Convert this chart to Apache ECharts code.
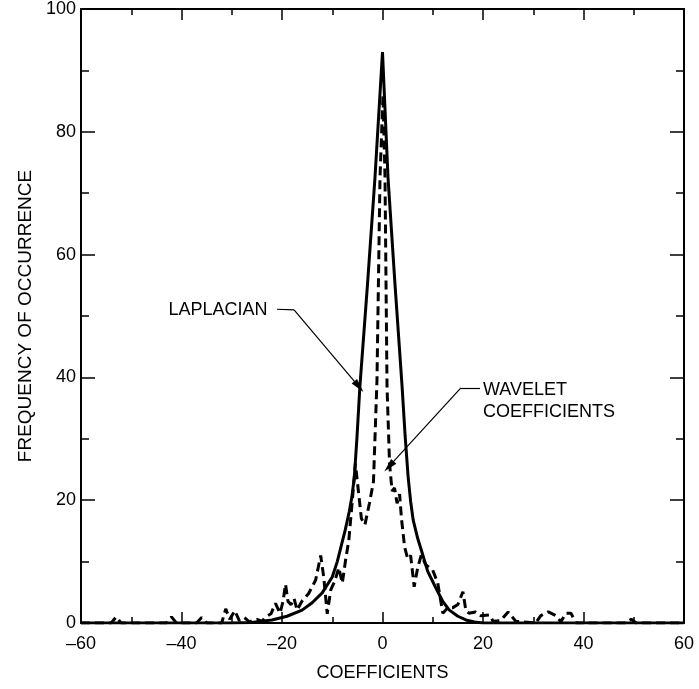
<!DOCTYPE html>
<html>
<head>
<meta charset="utf-8">
<script src="https://cdn.jsdelivr.net/npm/echarts@6/dist/echarts.min.js"></script>
<style>
  html, body { margin: 0; padding: 0; background: #fff; }
  #chart { width: 699px; height: 689px; }
</style>
</head>
<body>
<div id="chart"></div>
<script>
// laplacian curve
var lapX = [-60, -30, -26, -22, -19, -16, -14, -12, -10, -9, -8.2, -7.4, -6.6, -6.1, -5.6, -5.1, -4.5, -3, -1.5, 0, 1.1, 2.5, 3.9, 4.5, 5.1, 5.6, 6.1, 7, 7.9, 9, 10.5, 12, 13.3, 15, 16.6, 18.3, 20, 60];
var lapY = [0, 0, 0.1, 0.5, 1.1, 2.1, 3.3, 4.9, 7.5, 10, 12.6, 15.2, 18.2, 20.5, 23.8, 30, 38.5, 55, 72.5, 93, 72.5, 55, 38.5, 30.5, 23.8, 19.8, 16.8, 13.8, 11.4, 8.4, 5.9, 3.5, 2.1, 1.1, 0.5, 0.15, 0, 0];

// wavelet coefficient histogram (dashed)
var wavX = [-60, -54, -53, -52, -43, -42, -41, -37, -36, -35, -32, -31.2, -30.4, -29.4, -28.5, -27.5, -26.5, -25, -24, -23.2, -22.2, -21.3, -20.4, -19.8, -19.3, -18.8, -18.2, -17.6, -17, -16, -14.7, -13.3, -12.3, -11.7, -11, -10.3, -9.5, -8.7, -8, -7.3, -6.7, -6, -5.4, -4.8, -4.2, -3.5, -2.6, -1.8, -1.1, -0.5, 0.1, 0.5, 0.9, 1.4, 1.9, 2.4, 2.9, 3.4, 3.8, 4.4, 5, 5.6, 6.3, 7, 7.7, 8.6, 10, 11, 12, 13, 14, 15, 16, 16.6, 17.2, 18.5, 19.5, 21.3, 22, 23.5, 25, 26.5, 30.5, 31.5, 33, 34.5, 35.5, 36.5, 37.5, 38.5, 48.5, 49.5, 50.5, 60];
var wavY = [0, 0, 1, 0, 0, 1, 0, 0, 0.9, 0, 0, 2.3, 0.6, 2, 0.4, 0.9, 0.2, 0.6, 0.3, 1, 1.5, 3.2, 1.6, 3.5, 6.3, 3.5, 3, 4, 2.1, 3.6, 4.8, 7, 11, 7.5, 1.5, 5.4, 6.8, 9, 6.5, 10.5, 13.5, 20, 26, 21.5, 17, 16, 19.5, 23, 39.5, 72.5, 86, 72.5, 38.5, 26, 21.5, 22, 19.5, 21, 16.8, 12.4, 10.5, 11, 5.9, 9, 11, 9.5, 8.6, 6.5, 1.6, 2.5, 2.5, 3, 5.1, 2, 1.6, 1.8, 1.2, 1.3, 0.3, 0.4, 1.8, 0.3, 0, 1.2, 1.8, 1.2, 0.2, 1.6, 1.6, 0, 0, 0.6, 0, 0];

var xTicks = [-60, 60, 20];   // min, max, interval
var yTicks = [0, 100, 20];

function pairs(xs, ys) {
  var out = [];
  for (var i = 0; i < xs.length; i++) out.push([xs[i], ys[i]]);
  return out;
}

var font = '"Liberation Sans", Arial, sans-serif';

function xAx(pos, show) {
  return {
    type: 'value', position: pos,
    min: xTicks[0], max: xTicks[1], interval: xTicks[2],
    axisLine: { onZero: false, lineStyle: { color: '#000', width: 2 } },
    axisTick: { inside: true, length: 11, lineStyle: { color: '#000', width: 1.5 } },
    minorTick: { show: true, splitNumber: 2, length: 6, lineStyle: { color: '#000', width: 1.5 } },
    splitLine: { show: false },
    axisLabel: {
      show: show, margin: 12, color: '#000', fontSize: 18, fontFamily: font,
      formatter: function (v) { return v < 0 ? '\u2013' + (-v) : '' + v; }
    },
    name: show ? 'COEFFICIENTS' : '', nameLocation: 'middle', nameGap: 41,
    nameTextStyle: { color: '#000', fontSize: 18, fontFamily: font }
  };
}

function yAx(pos, show) {
  return {
    type: 'value', position: pos,
    min: yTicks[0], max: yTicks[1], interval: yTicks[2],
    axisLine: { onZero: false, lineStyle: { color: '#000', width: 2 } },
    axisTick: { inside: true, length: 14, lineStyle: { color: '#000', width: 1.5 } },
    minorTick: { show: true, splitNumber: 2, length: 8, lineStyle: { color: '#000', width: 1.5 } },
    splitLine: { show: false },
    axisLabel: { show: show, margin: 5, color: '#000', fontSize: 18, fontFamily: font },
    name: show ? 'FREQUENCY OF OCCURRENCE' : '', nameLocation: 'middle', nameGap: 46, nameRotate: 90,
    nameTextStyle: { color: '#000', fontSize: 19, fontFamily: font }
  };
}

var myChart = echarts.init(document.getElementById('chart'));
var option = {
  animation: false,
  backgroundColor: '#fff',
  grid: { left: 81, right: 15, top: 8, bottom: 66 },
  xAxis: [xAx('bottom', true), xAx('top', false)],
  yAxis: [yAx('left', true), yAx('right', false)],
  series: [{
    name: 'LAPLACIAN',
    type: 'line',
    data: pairs(lapX, lapY),
    showSymbol: false,
    lineStyle: { color: '#000', width: 3 },
    markLine: {
      silent: true,
      symbol: ['none', 'none'],
      lineStyle: { color: '#000', width: 1.2, type: 'solid' },
      label: { show: false },
      data: [
        [{ coord: [-21, 51.1] }, { coord: [-17.6, 51] }],
        [{ coord: [-17.6, 51], symbol: 'none' }, { coord: [-4.7, 38.5], symbol: 'triangle', symbolSize: [7, 14] }],
        [{ coord: [19.4, 38.3] }, { coord: [15.6, 38.3] }],
        [{ coord: [15.6, 38.3], symbol: 'none' }, { coord: [1.3, 25.5], symbol: 'triangle', symbolSize: [7, 14] }]
      ]
    }
  }, {
    name: 'WAVELET COEFFICIENTS',
    type: 'line',
    data: pairs(wavX, wavY),
    showSymbol: false,
    lineStyle: { color: '#000', width: 3, type: [9, 5] }
  }]
};
myChart.setOption(option);

// annotation texts placed in data coordinates
var p1 = myChart.convertToPixel({ gridIndex: 0 }, [-42.6, 51]);
var p2 = myChart.convertToPixel({ gridIndex: 0 }, [20, 37.9]);
var p3 = myChart.convertToPixel({ gridIndex: 0 }, [20, 34.4]);
var txt = { fill: '#000', fontSize: 18, fontFamily: font, verticalAlign: 'middle', align: 'left' };
myChart.setOption({
  graphic: [
    { type: 'text', x: p1[0], y: p1[1], style: Object.assign({ text: 'LAPLACIAN' }, txt) },
    { type: 'text', x: p2[0], y: p2[1], style: Object.assign({ text: 'WAVELET' }, txt) },
    { type: 'text', x: p3[0], y: p3[1], style: Object.assign({ text: 'COEFFICIENTS' }, txt) }
  ]
});
</script>
</body>
</html>
